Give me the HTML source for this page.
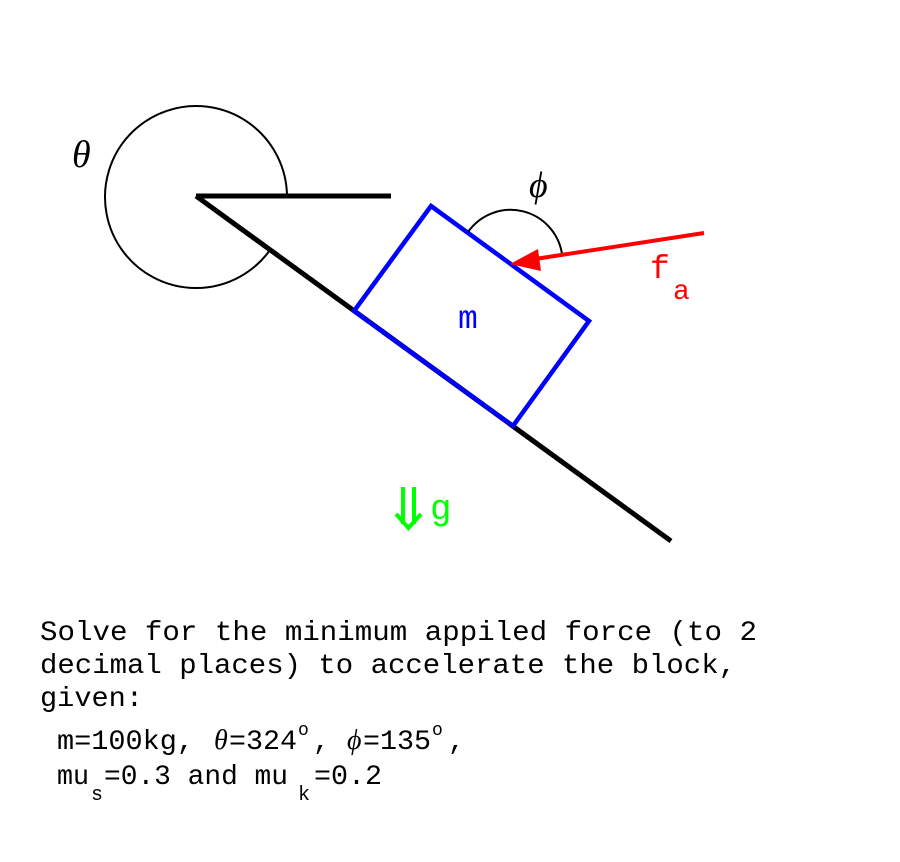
<!DOCTYPE html>
<html><head><meta charset="utf-8"><style>
html,body{margin:0;padding:0;background:#fff;width:900px;height:862px;overflow:hidden}
</style></head><body>
<svg width="900" height="862" xmlns="http://www.w3.org/2000/svg">
<path d="M287,196 A91,91 0 1 0 270,250" fill="none" stroke="#000" stroke-width="2"/>
<line x1="196" y1="196" x2="391" y2="196" stroke="#000" stroke-width="5"/>
<line x1="196" y1="196" x2="671" y2="541" stroke="#000" stroke-width="5"/>
<polygon points="431,206 589,321 513,426 354,311" fill="none" stroke="#0000ff" stroke-width="4.5"/>
<path d="M468,232 A52,52 0 0 1 562,254" fill="none" stroke="#000" stroke-width="2"/>
<line x1="704" y1="233" x2="535" y2="259" stroke="#ff0000" stroke-width="4"/>
<polygon points="510,264 538,249 541,271" fill="#ff0000"/>
<text x="72" y="167" font-family="Liberation Serif, serif" font-style="italic" font-size="38">θ</text>
<text x="529" y="197" font-family="Liberation Serif, serif" font-style="italic" font-size="36">ϕ</text>
<text x="458" y="328" font-family="Liberation Mono, monospace" font-size="33" fill="#0000ff">m</text>
<text x="650" y="278" font-family="Liberation Mono, monospace" font-size="33" fill="#ff0000">f</text>
<text x="673" y="299" font-family="Liberation Mono, monospace" font-size="28" fill="#ff0000">a</text>
<g stroke="#00ff00" stroke-width="4" fill="none">
<line x1="403" y1="487" x2="403" y2="524"/>
<line x1="414" y1="487" x2="414" y2="524"/>
<polyline points="396,514 408.5,528 421,514"/>
</g>
<text x="430" y="519" font-family="Liberation Mono, monospace" font-size="36" fill="#00ff00">g</text>
<g font-family="Liberation Mono, monospace" font-size="28" fill="#000">
<text x="40" y="640" textLength="717" lengthAdjust="spacingAndGlyphs">Solve for the minimum appiled force (to 2</text>
<text x="40" y="673" textLength="696" lengthAdjust="spacingAndGlyphs">decimal places) to accelerate the block,</text>
<text x="40" y="706" textLength="103" lengthAdjust="spacingAndGlyphs">given:</text>
<text x="57" y="749" textLength="137" lengthAdjust="spacingAndGlyphs">m=100kg,</text>
<text x="214" y="749" font-family="Liberation Serif, serif" font-style="italic">θ</text>
<text x="229" y="749" textLength="68" lengthAdjust="spacingAndGlyphs">=324</text>
<text x="298" y="735" font-size="18">o</text>
<text x="313" y="749">,</text>
<text x="347" y="749" font-family="Liberation Serif, serif" font-style="italic">ϕ</text>
<text x="363" y="749" textLength="68" lengthAdjust="spacingAndGlyphs">=135</text>
<text x="432" y="735" font-size="18">o</text>
<text x="448" y="749">,</text>
<text x="57" y="784" textLength="32" lengthAdjust="spacingAndGlyphs">mu</text>
<text x="91" y="800" font-size="20">s</text>
<text x="104" y="784" textLength="184" lengthAdjust="spacingAndGlyphs">=0.3 and mu</text>
<text x="298" y="800" font-size="20">k</text>
<text x="314" y="784" textLength="68" lengthAdjust="spacingAndGlyphs">=0.2</text>
</g>
</svg>
</body></html>
